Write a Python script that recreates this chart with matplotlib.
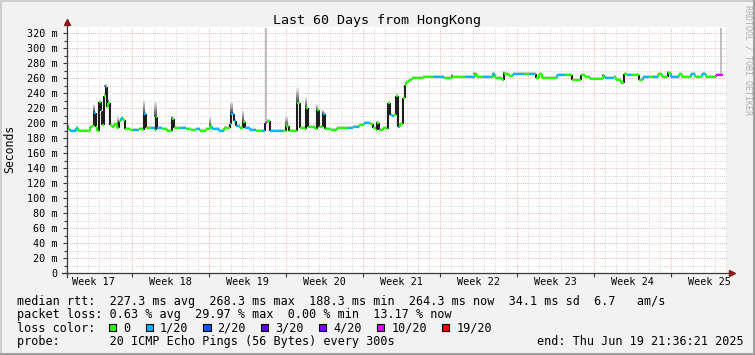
import matplotlib
matplotlib.use("Agg")
import matplotlib.pyplot as plt
from matplotlib.collections import LineCollection
from matplotlib.patches import Rectangle
import numpy as np

W, H = 755, 355

# median rtt (ms) per change point, day offset from start of the 60 day window
days = [0.0, 0.3, 0.8, 1.0, 1.9, 2.1, 2.3, 2.45, 2.6, 2.75, 2.9, 3.05, 3.2, 3.35, 3.5, 3.6, 3.75, 3.9,
        4.1, 4.3, 4.5, 4.7, 4.9, 5.1, 5.3, 5.7, 6.0, 6.5, 6.95, 7.0, 7.15, 7.6, 8.0, 8.05, 8.2, 8.6,
        9.1, 9.55, 9.7, 10.3, 10.8, 11.3, 11.7, 12.1, 12.6, 13.0, 13.2, 13.8, 14.3, 14.8, 14.95, 15.15,
        15.4, 15.7, 16.0, 16.2, 16.6, 17.2, 17.7, 18.0, 18.2, 18.45, 19.2, 19.6, 19.95, 20.15, 20.85,
        20.95, 21.15, 21.6, 21.75, 21.95, 22.5, 22.75, 22.95, 23.25, 23.45, 24.0, 24.5, 25.0, 25.5,
        26.0, 26.5, 27.0, 27.5, 27.8, 28.1, 28.2, 28.35, 28.7, 29.1, 29.2, 29.35, 29.55, 29.75, 29.95,
        30.1, 30.3, 30.5, 30.7, 30.85, 31.1, 31.4, 32.4, 33.3, 34.3, 35.0, 35.3, 36.2, 37.05, 37.25,
        37.8, 38.6, 38.7, 38.9, 39.5, 39.75, 40.2, 40.5, 41.5, 42.0, 42.65, 42.95, 43.2, 44.5, 45.3,
        45.9, 46.75, 47.1, 47.5, 48.7, 48.95, 49.75, 49.95, 50.35, 50.65, 50.9, 51.3, 52.0, 52.4, 52.9,
        53.3, 53.75, 54.05, 54.65, 54.95, 55.65, 55.95, 56.75, 57.1, 57.75, 58.05, 59.0, 59.6]
rtt = [192, 190, 194, 190, 190, 195, 196, 214, 195, 190, 228, 216, 198, 236, 248, 222, 227, 198,
       195, 199, 194, 203, 207, 204, 192, 191, 191, 192, 191, 212, 193, 193, 191, 208, 193, 192,
       190, 206, 193, 193, 192, 191, 192, 190, 192, 196, 192, 190, 193, 199, 212, 203,
       196, 193, 202, 194, 191, 190, 190, 200, 203, 189, 189, 190, 196, 190, 190,
       227, 193, 192, 220, 195, 192, 217, 195, 212, 192, 191, 193, 194, 193,
       195, 198, 200, 199, 193, 191, 200, 191, 193, 192, 227, 211, 210, 211, 236,
       195, 199, 233, 251, 255, 258, 260, 261, 262, 260, 262, 261, 261, 265, 261,
       261, 261, 265, 260, 258, 266, 263, 266, 266, 266, 260, 265, 260, 264, 264,
       258, 264, 261, 259, 263, 260, 262, 258, 253, 265, 264, 264, 258, 261, 261,
       262, 265, 261, 267, 262, 265, 262, 265, 261, 265, 262, 264, 264]
loss = [0, 1, 1, 0, 0, 0, 0, 1, 0, 0, 0, 1, 0, 0, 1, 0, 0, 0,
        0, 0, 0, 0, 1, 0, 0, 0, 1, 0, 0, 1, 0, 1, 0, 0, 1, 0,
        0, 0, 0, 1, 0, 0, 1, 0, 0, 0, 1, 1, 0, 1, 1, 1,
        1, 0, 0, 1, 1, 0, 1, 5, 0, 1, 1, 0, 0, 0, 0,
        0, 0, 0, 0, 0, 0, 0, 0, 1, 0, 0, 0, 0, 1,
        1, 0, 1, 0, 0, 0, 0, 0, 0, 0, 0, 1, 1, 0, 0,
        1, 0, 0, 0, 0, 0, 0, 0, 1, 0, 0, 0, 1, 0, 0,
        1, 0, 1, 0, 0, 0, 0, 1, 0, 1, 0, 0, 0, 1, 0,
        0, 0, 0, 0, 0, 1, 0, 0, 0, 0, 1, 0, 0, 1, 0,
        1, 0, 0, 0, 1, 0, 0, 1, 0, 1, 0, 5, 5]

loss_labels = ["0", "1/20", "2/20", "3/20", "4/20", "10/20", "19/20"]
loss_colors = ["#26ff00", "#00b8ff", "#0059ff", "#5e00ff", "#7e00ff", "#dd00ff", "#ff0000"]

# smoke (spread of the 20 pings) above the median at the spikes
smoke_days = [0.05, 2.45, 3.5, 3.75, 4.6, 7.0, 8.05, 9.55, 13.0, 14.95, 16.0, 19.95, 20.95, 21.75,
              22.75, 23.25, 28.2, 35.0, 37.05, 38.7, 39.75, 48.7, 54.65]
smoke_top = [200, 225, 252, 232, 210, 231, 229, 210, 208, 229, 218, 209, 247, 235,
             225, 218, 203, 266, 268, 268, 270, 266, 270]
outlier_days = [18.05, 59.45]
outlier_top = [327, 327]

week_labels = ["Week 17", "Week 18", "Week 19", "Week 20", "Week 21",
               "Week 22", "Week 23", "Week 24", "Week 25"]
first_week = 5.91

stats = ["median rtt:  227.3 ms avg  268.3 ms max  188.3 ms min  264.3 ms now  34.1 ms sd  6.7   am/s",
         "packet loss: 0.63 % avg  29.97 % max  0.00 % min  13.17 % now"]
probe = "probe:       20 ICMP Echo Pings (56 Bytes) every 300s"
end_txt = "end: Thu Jun 19 21:36:21 2025"

plt.rcParams["font.family"] = ["DejaVu Sans Mono"]
AXIS = "#3a3a3a"
ARROW = "#8b1a1a"


def fx(x):
    return x / W


def fy(y):
    return 1 - y / H


fig = plt.figure(figsize=(W / 100, H / 100), dpi=100)
fig.patch.set_facecolor("#f2f2f2")

# 3d frame
fig.patches.append(Rectangle((0, 1 - 2 / H), 1, 2 / H, transform=fig.transFigure, color="#cfcfcf", lw=0))
fig.patches.append(Rectangle((0, 0), 2 / W, 1, transform=fig.transFigure, color="#cfcfcf", lw=0))
fig.patches.append(Rectangle((0, 0), 1, 2 / H, transform=fig.transFigure, color="#9e9e9e", lw=0))
fig.patches.append(Rectangle((1 - 2 / W, 0), 2 / W, 1, transform=fig.transFigure, color="#9e9e9e", lw=0))

ax = fig.add_axes([fx(67), fy(273), 660 / W, 246 / H])
ax.set_facecolor("white")
ax.set_xlim(0, 60)
ax.set_ylim(0, 328)
for s in ax.spines.values():
    s.set_visible(False)

# grid: red every 20 ms / week, grey every 10 ms / day
dots = (0, (0.8, 1.4))
for v in range(10, 330, 10):
    major = v % 20 == 0
    ax.axhline(v, color="#eba3a3" if major else "#cccccc", lw=0.7, ls=dots, zorder=1)
dd = first_week % 1
while dd < 60:
    k = (dd - first_week) / 7
    major = abs(k - round(k)) < 1e-6
    ax.axvline(dd, color="#eba3a3" if major else "#cccccc", lw=0.7, ls=dots, zorder=1)
    dd += 1

x = np.array(days)
y = np.array(rtt)

# light smoke band along the median
ax.fill_between(x, y - 1.5, y + 2.5, step="post", color="#d6d6d6", lw=0, zorder=2)

# spike smoke, dark near the median fading upward
for sd, top in zip(smoke_days, smoke_top):
    i = np.searchsorted(x, sd, side="right") - 1
    base = y[max(i, 0)]
    n = 8
    for k in range(n):
        lo = base + (top - base) * k / n
        hi = base + (top - base) * (k + 1) / n
        g = 0.3 + 0.6 * k / (n - 1)
        ax.fill_between([sd - 0.1, sd + 0.1], lo, hi, color=(g, g, g), lw=0, zorder=2)

for od, top in zip(outlier_days, outlier_top):
    i = np.searchsorted(x, od, side="right") - 1
    ax.vlines(od, y[max(i, 0)], top, color="#b4b4b4", lw=1.2, zorder=2)

# median line: coloured by loss, dark at big jumps
hseg, hcol, vseg, vcol = [], [], [], []
for i in range(len(x) - 1):
    hseg.append([(x[i], y[i]), (x[i + 1], y[i])])
    hcol.append(loss_colors[loss[i]])
    if y[i + 1] != y[i]:
        vseg.append([(x[i + 1], y[i]), (x[i + 1], y[i + 1])])
        vcol.append("#1e1e1e" if abs(y[i + 1] - y[i]) > 5 else loss_colors[loss[i + 1]])
ax.add_collection(LineCollection(vseg, colors=vcol, lw=1.5, zorder=3))
ax.add_collection(LineCollection(hseg, colors=hcol, lw=1.6, zorder=4, capstyle="butt"))

# axes lines with arrows
ax.plot([0, 0], [-4 / 0.75, 328 + 3 / 0.75], color=AXIS, lw=0.9, clip_on=False, zorder=5)
ax.plot([-5 / 11, 60 + 4 / 11], [0, 0], color=AXIS, lw=0.9, clip_on=False, zorder=5)
ax.plot([0], [328 + 5 / 0.75], marker="^", ms=4, color=ARROW, clip_on=False, zorder=6)
ax.plot([60 + 5 / 11], [0], marker=">", ms=4, color=ARROW, clip_on=False, zorder=6)

ax.set_yticks(range(0, 321, 20))
ax.set_yticklabels([f"{v} m" if v else "0" for v in range(0, 321, 20)])
ax.set_yticks(range(10, 330, 20), minor=True)
ax.set_xticks([first_week + 7 * k for k in range(8)])
ax.set_xticklabels([])
ax.tick_params(axis="y", which="major", length=3, width=0.8, color=AXIS, pad=4, labelsize=7.3)
ax.tick_params(axis="y", which="minor", length=2, width=0.8, color=AXIS)
ax.tick_params(axis="x", length=3, width=0.8, color=AXIS)

for k, lab in enumerate(week_labels):
    ax.text(first_week - 3.5 + 7 * k, -12 / 0.75, lab, fontsize=7.3, ha="center", va="baseline")

fig.text(fx(377), fy(24.3), "Last 60 Days from HongKong", fontsize=9.6, ha="center", va="baseline")
fig.text(fx(10), fy(149), "Seconds", fontsize=8.3, rotation=90, ha="center", va="center")
fig.text(fx(748), fy(60), "RRDTOOL / TOBI OETIKER", fontsize=6, rotation=270,
         ha="center", va="center", color="#b0b0b0")

FS = 8.5
CW = 7.1
fig.text(fx(16.7), fy(304.5), stats[0], fontsize=FS, va="baseline")
fig.text(fx(16.7), fy(318), stats[1], fontsize=FS, va="baseline")
fig.text(fx(16.7), fy(331.5), "loss color:", fontsize=FS, va="baseline")
fig.text(fx(16.7), fy(345), probe, fontsize=FS, va="baseline")
fig.text(fx(536.7), fy(345), end_txt, fontsize=FS, va="baseline")

bx = 16.7 + 13 * CW
for lab, col in zip(loss_labels, loss_colors):
    fig.patches.append(Rectangle((fx(bx), fy(331)), 7 / W, 7 / H, transform=fig.transFigure,
                                 facecolor=col, edgecolor="black", lw=0.8))
    lx = bx + 14
    fig.text(fx(lx), fy(331.5), lab, fontsize=FS, va="baseline")
    bx = lx + len(lab) * CW + 15.5

fig.savefig("out.png", dpi=100, facecolor=fig.get_facecolor())
